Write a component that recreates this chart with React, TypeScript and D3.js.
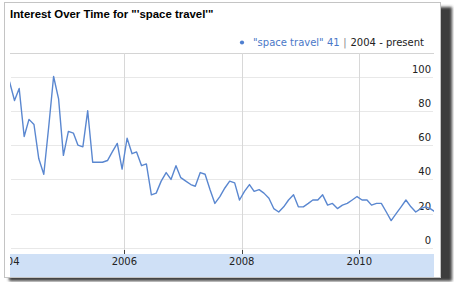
import React from "react";
import * as d3 from "d3";

const title = "Interest Over Time for \"'space travel'\"";
const seriesName = "\"space travel\" 41";
const rangeLabel = "2004 - present";
const startYear = 2004;
const values = [
  97, 86, 93, 65, 75, 72, 52, 43, 71, 100, 87, 54,
  68, 67, 60, 59, 80, 50, 50, 50, 51, 56, 61, 46,
  64, 55, 56, 48, 49, 31, 32, 39, 44, 40, 48, 41,
  39, 37, 36, 44, 43, 34, 26, 30, 35, 39, 38, 28,
  33, 37, 33, 34, 32, 29, 23, 21, 24, 28, 31, 24,
  24, 26, 28, 28, 31, 25, 26, 23, 25, 26, 28, 30,
  28, 28, 25, 26, 26, 21, 16, 20, 24, 28, 24, 21,
  23, 24, 23, 21,
];
const yTicks = [0, 20, 40, 60, 80, 100];
const yearTicks = [2004, 2006, 2008, 2010];

const W = 454;
const H = 282;
const plotL = 10;
const plotR = 434;
const plotT = 53;
const barT = 254;
const barB = 277;

export default function App() {
  const dates = values.map((_, i) => new Date(startYear, i, 18));
  const x = d3
    .scaleTime()
    .domain([new Date(2004, 0, 1), new Date(2010, 0, 1)])
    .range([6.8, 359.3]);
  const y = d3.scaleLinear().domain([0, 100]).range([248, 76.5]);
  const line = d3
    .line<number>()
    .x((_, i) => x(dates[i]))
    .y((d) => y(d));

  const font = "'DejaVu Sans', Verdana, sans-serif";

  return (
    <svg
      width={W}
      height={H}
      style={{ position: "absolute", left: 0, top: 0 }}
      xmlns="http://www.w3.org/2000/svg"
    >
      <defs>
        <filter id="sh" x="-5%" y="-5%" width="110%" height="110%">
          <feGaussianBlur stdDeviation="1.6" />
        </filter>
        <clipPath id="clipPlot">
          <rect x={plotL} y={plotT} width={plotR - plotL} height={barB - plotT} />
        </clipPath>
      </defs>
      <rect x={0} y={0} width={W} height={H} fill="#fff" />
      <rect x={9} y={7} width={443} height={274} fill="#3c3c3c" filter="url(#sh)" />
      <rect x={4.5} y={2.5} width={436} height={275} fill="#fff" stroke="#c4c4c4" />

      <text x={10} y={18.3} fontFamily="'Liberation Sans', Arial, sans-serif" fontWeight="bold" fontSize={11.4} fill="#000">
        {title}
      </text>

      {/* legend */}
      <circle cx={242} cy={42.5} r={2.1} fill="#4f7fd0" />
      <text x={253} y={46} fontFamily={font} fontSize={10} fill="#4a78c8">
        {seriesName}
      </text>
      <text x={345} y={46} fontFamily={font} fontSize={10} fill="#888" textAnchor="middle">
        |
      </text>
      <text x={350.5} y={46} fontFamily={font} fontSize={10} fill="#222">
        {rangeLabel}
      </text>

      {/* top border of plot */}
      <line x1={plotL} x2={plotR} y1={plotT + 0.5} y2={plotT + 0.5} stroke="#d4d4d4" />

      {/* horizontal grid */}
      {yTicks.map((t) => (
        <line
          key={"g" + t}
          x1={plotL + 1}
          x2={plotR - 1}
          y1={Math.round(y(t)) + 0.5}
          y2={Math.round(y(t)) + 0.5}
          stroke="#e8e8e8"
        />
      ))}

      {/* vertical year lines */}
      {yearTicks.map((yr) => {
        const xx = Math.round(x(new Date(yr, 0, 1))) + 0.5;
        if (xx < plotL) return null;
        return (
          <line key={"v" + yr} x1={xx} x2={xx} y1={plotT} y2={barT} stroke="#d8d8d8" />
        );
      })}

      {/* x axis bar */}
      <rect x={plotL} y={barT} width={plotR - plotL} height={barB - barT} fill="#cfe0f6" />
      <g clipPath="url(#clipPlot)">
        {yearTicks.map((yr) => {
          const xx = x(new Date(yr, 0, 1));
          return (
            <g key={"t" + yr}>
              <line x1={Math.round(xx) + 0.5} x2={Math.round(xx) + 0.5} y1={250} y2={barT} stroke="#444" />
              <text x={xx} y={265} fontFamily={font} fontSize={10} fill="#222" textAnchor="middle">
                {String(yr)}
              </text>
            </g>
          );
        })}
      </g>

      {/* y labels */}
      {yTicks.map((t) => (
        <text
          key={"l" + t}
          x={431}
          y={y(t) - 4}
          fontFamily={font}
          fontSize={10}
          fill="#222"
          textAnchor="end"
        >
          {String(t)}
        </text>
      ))}

      {/* data line */}
      <g clipPath="url(#clipPlot)">
        <path d={line(values) || ""} fill="none" stroke="#5a87d0" strokeWidth={1.4} strokeLinejoin="round" />
      </g>
    </svg>
  );
}
